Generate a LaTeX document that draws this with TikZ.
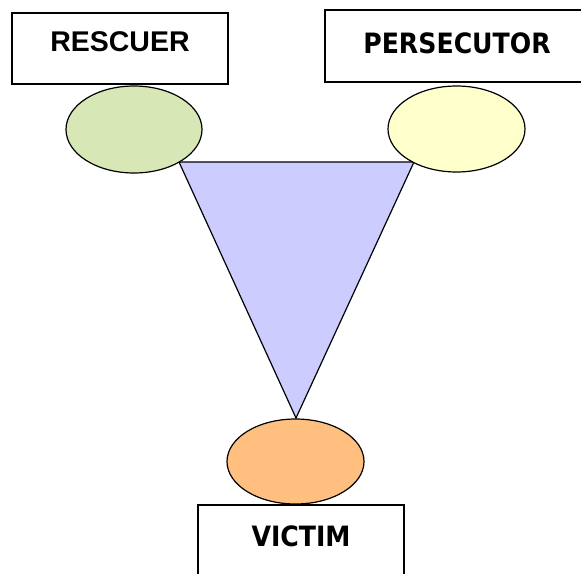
\documentclass[tikz,border=0pt]{standalone}
\usepackage{fontspec}
\usetikzlibrary{shapes.geometric}
\setmainfont{Liberation Sans}
\newfontfamily\tahfont{DejaVu Sans Condensed}
\definecolor{triblue}{RGB}{204,204,255}
\definecolor{resgreen}{RGB}{215,232,182}
\definecolor{peryellow}{RGB}{255,255,204}
\definecolor{vicorange}{RGB}{255,191,127}
\begin{document}
\begin{tikzpicture}[x=1pt,y=-1pt,
  rolebox/.style={draw=black,line width=1.2pt,fill=white,inner sep=0pt,text height=20pt},
  blob/.style={draw=black,line width=1.2pt,ellipse,inner sep=0pt},
]
\useasboundingbox (0,0) rectangle (581,573);
\fill[white] (0,0) rectangle (581,573);
% triangle
\coordinate (tl) at (179,162);
\coordinate (tr) at (414,162);
\coordinate (tb) at (296,418);
\draw[line width=1.2pt,fill=triblue,line join=miter] (tl) -- (tr) -- (tb) -- cycle;
% ellipses
\node[blob,fill=resgreen,minimum width=136pt,minimum height=87pt] (eg) at (134,129.5) {};
\node[blob,fill=peryellow,minimum width=137pt,minimum height=86pt] (ey) at (456.5,129) {};
\node[blob,fill=vicorange,minimum width=137pt,minimum height=85pt] (eo) at (295.5,461.5) {};
% boxes
\node[rolebox,minimum width=216pt,minimum height=71pt,text depth=13.6pt,font=\fontsize{28.5}{30}\selectfont\bfseries] (resc) at (120,48.5) {RESCUER};
\node[rolebox,minimum width=264pt,minimum height=72pt,text depth=5.4pt,font=\tahfont\fontsize{28}{30}\selectfont\bfseries] (pers) at (457,46) {PERSECUTOR};
\node[rolebox,minimum width=206pt,minimum height=80pt,text depth=16.6pt,font=\tahfont\fontsize{28}{30}\selectfont\bfseries] (vict) at (301,545) {VICTIM};
\end{tikzpicture}
\end{document}
